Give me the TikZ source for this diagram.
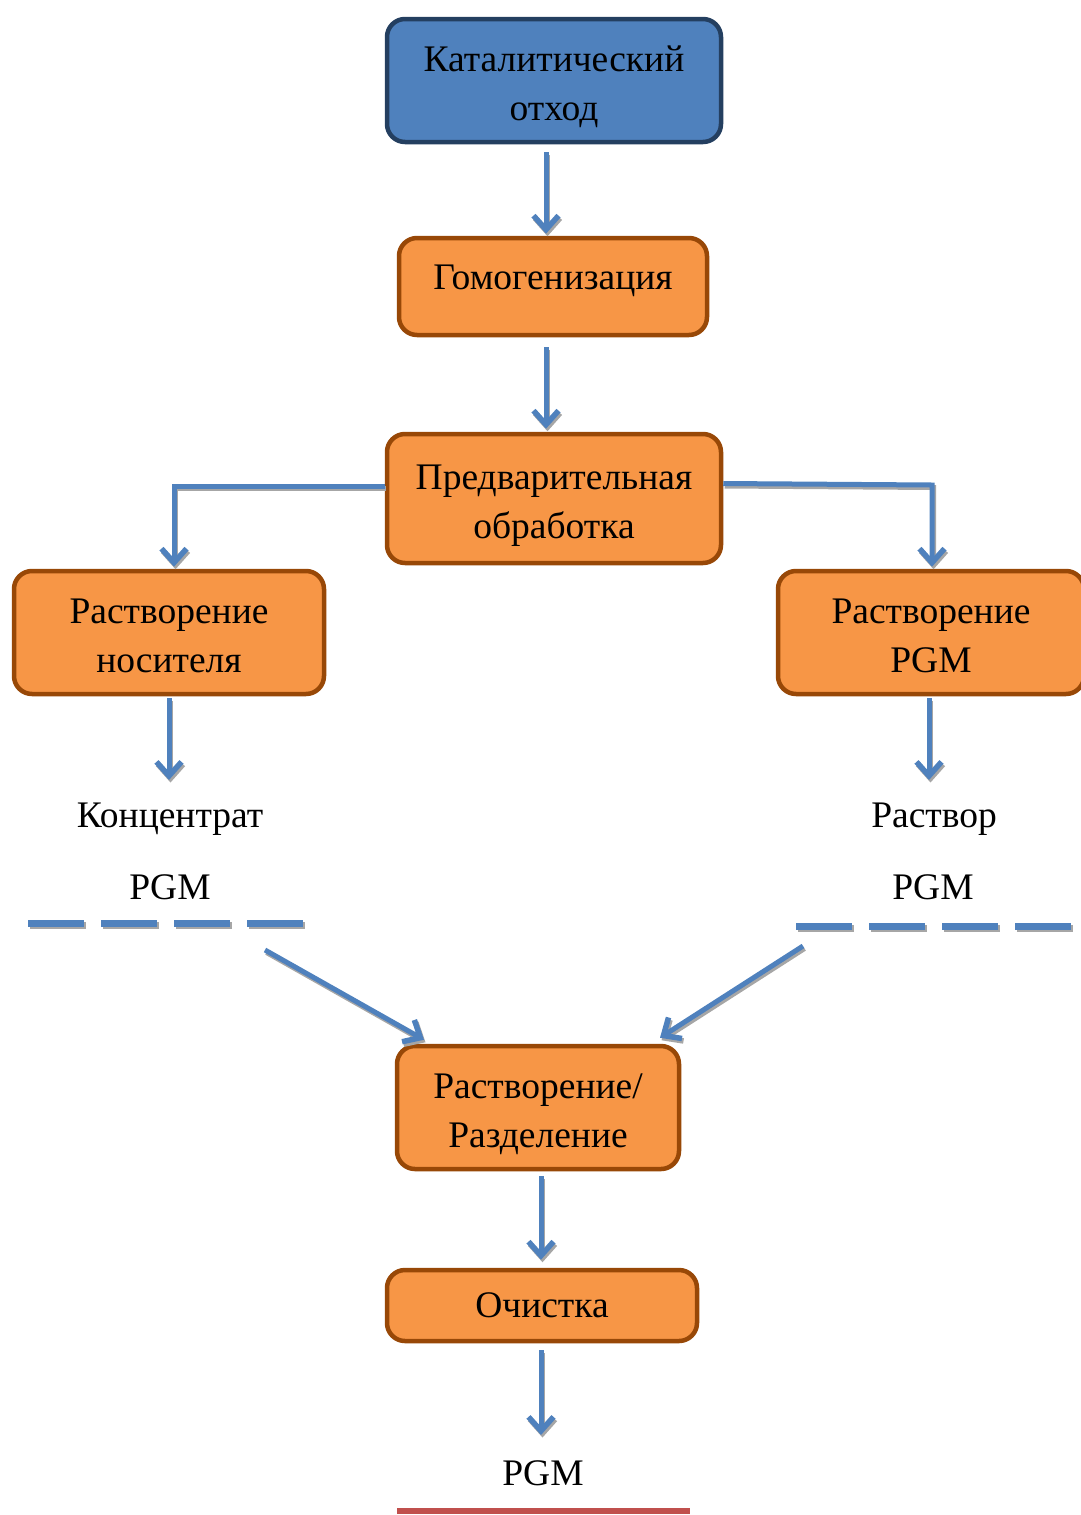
\documentclass[tikz,border=0pt]{standalone}
\usepackage{fontspec}
\setmainfont{Liberation Serif}
\usetikzlibrary{arrows.meta}
\definecolor{blueF}{HTML}{4F81BD}
\definecolor{blueB}{HTML}{243F60}
\definecolor{orF}{HTML}{F79646}
\definecolor{orB}{HTML}{984807}
\definecolor{redL}{HTML}{C0504D}
\definecolor{shad}{HTML}{A6A6A6}
\tikzset{
  txt/.style={font=\fontsize{37.5}{49}\selectfont, align=center, inner sep=0pt},
  box/.style={txt, draw=orB, fill=orF, line width=4.5pt, rounded corners=18pt},
  two/.style={text height=84pt, text depth=5pt},
  topbox/.style={box, draw=blueB, fill=blueF},
  arr/.style={draw=blueF, line width=5pt, -{Straight Barb[length=14pt,width=25pt,line width=5.5pt]}},
  shd/.style={draw=shad, transform canvas={xshift=1.5pt,yshift=-2.5pt}},
  dashln/.style={draw=blueF, line width=7pt, dash pattern=on 56pt off 17pt},
}
\begin{document}
\begin{tikzpicture}[x=1pt,y=-1pt]
\useasboundingbox (0,0) rectangle (1080,1515);
\node[topbox, two, minimum width=334pt, minimum height=123pt] (b1) at (554,80.5) {Каталитический\\отход};
\node[box, text height=25pt, text depth=20pt, minimum width=308pt, minimum height=97pt] (b2) at (553,286.5) {Гомогенизация};
\node[box, two, minimum width=334pt, minimum height=129pt] (b3) at (554,498.5) {Предварительная\\обработка};
\node[box, two, minimum width=310pt, minimum height=123pt] (b4) at (169,632.5) {Растворение\\носителя};
\node[box, two, minimum width=306pt, minimum height=123pt] (b5) at (931,632.5) {Растворение\\PGM};
\node[box, two, minimum width=282pt, minimum height=123pt] (b6) at (538,1107.5) {Растворение/\\Разделение};
\node[box, minimum width=310pt, minimum height=71pt] (b7) at (542,1305.5) {Очистка};

\node[txt] (t1) at (170,819) {Концентрат};
\node[txt] (t2) at (170,887) {PGM};
\node[txt] (t3) at (934,819) {Раствор};
\node[txt] (t4) at (933,887) {PGM};
\node[txt] (t5) at (543,1473) {PGM};

\coordinate (e4) at (169,780);
\coordinate (e5) at (929,780);
\coordinate (e7) at (541,1435);
\coordinate (dl1) at (28,923);
\coordinate (dl2) at (303,923);
\coordinate (dr1) at (796,926);
\coordinate (dr2) at (1072,926);
\coordinate (sl) at (265,950);
\coordinate (sr) at (803,946);
\coordinate (r1) at (397,1511);
\coordinate (r2) at (690,1511);

\foreach \s in {shd,}{
\draw[arr, \s, shorten <=8pt, shorten >=2pt] ([xshift=-8pt]b1.south) -- ([xshift=-7pt]b2.north);
\draw[arr, \s, shorten <=10pt, shorten >=3pt] ([xshift=-7pt]b2.south) -- ([xshift=-8pt]b3.north);
\draw[arr, \s] ([yshift=12.5pt]b3.west) -| ([xshift=5pt,yshift=2pt]b4.north);
\draw[arr, \s] ([yshift=15pt]b3.east) -- (932,485) -- ([xshift=1pt,yshift=2pt]b5.north);
\draw[arr, \s, shorten <=2pt] (b4.south) -- (e4);
\draw[arr, \s, shorten <=2pt] ([xshift=-2pt]b5.south) -- (e5);
\draw[dashln, \s] (dl1) -- (dl2);
\draw[dashln, \s] (dr1) -- (dr2);
\draw[arr, \s] (sl) -- ([xshift=-114pt,yshift=4pt]b6.north);
\draw[arr, \s] (sr) -- ([xshift=122pt,yshift=6pt]b6.north);
\draw[arr, \s, shorten <=5pt, shorten >=8pt] ([xshift=3pt]b6.south) -- ([xshift=-1pt]b7.north);
\draw[arr, \s, shorten <=7pt] ([xshift=-1pt]b7.south) -- (e7);
}
\draw[draw=redL, line width=6pt] (r1) -- (r2);
\end{tikzpicture}
\end{document}
